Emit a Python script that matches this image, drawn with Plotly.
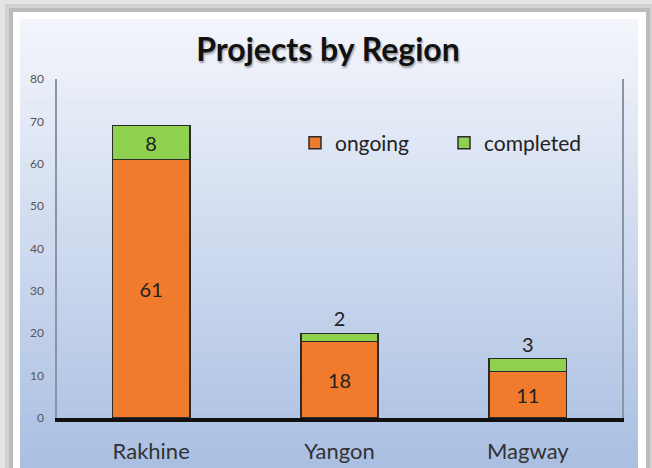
import plotly.graph_objects as go

regions = ["Rakhine", "Yangon", "Magway"]
ongoing = [61, 18, 11]
completed = [8, 2, 3]
y_ticks = [0, 10, 20, 30, 40, 50, 60, 70, 80]

W, H = 652, 468
L, R, T, B = 57, 30, 79, 50
PW, PH = W - L - R, H - T - B


def px(x):
    return (x - L) / PW


def py(y):
    return (H - B - y) / PH


shapes = []
# outer grey shadow frame
shapes.append(dict(type="rect", xref="paper", yref="paper", x0=px(5), x1=px(652), y0=py(470), y1=py(4),
                   fillcolor="#d2d2d2", line=dict(width=0), layer="below"))
shapes.append(dict(type="rect", xref="paper", yref="paper", x0=px(9), x1=px(650), y0=py(470), y1=py(8),
                   fillcolor="#bcbcbc", line=dict(width=0), layer="below"))
# white panel
shapes.append(dict(type="rect", xref="paper", yref="paper", x0=px(13), x1=px(646), y0=py(470), y1=py(12),
                   fillcolor="#ffffff", line=dict(width=0), layer="below"))
# gradient background bands
top_c = (243, 245, 251)
bot_c = (170, 191, 226)
y_start, y_end = 19, 468
n = 60
for i in range(n):
    t = i / (n - 1)
    c = tuple(int(round(top_c[k] + (bot_c[k] - top_c[k]) * t)) for k in range(3))
    ya = y_start + (y_end - y_start) * i / n
    yb = y_start + (y_end - y_start) * (i + 1) / n + 0.6
    shapes.append(dict(type="rect", xref="paper", yref="paper", x0=px(20), x1=px(638),
                       y0=py(yb), y1=py(ya), fillcolor="rgb(%d,%d,%d)" % c,
                       line=dict(width=0), layer="below"))

label_font = dict(family="Lato", size=20, color="#222222")

fig = go.Figure()
fig.add_trace(go.Bar(
    x=regions, y=ongoing, name="ongoing",
    marker=dict(color="#f07b2c", line=dict(color="#2b2b2b", width=1.5)),
    text=[str(v) for v in ongoing], textposition="inside", insidetextanchor="middle",
    textangle=0, constraintext="none",
    textfont=label_font,
    width=0.41,
))
fig.add_trace(go.Bar(
    x=regions, y=completed, name="completed",
    marker=dict(color="#8fd14f", line=dict(color="#2b2b2b", width=1.5)),
    text=[str(v) for v in completed],
    textposition=["inside" if v >= 5 else "outside" for v in completed],
    insidetextanchor="middle", textangle=0, constraintext="none", cliponaxis=False,
    textfont=label_font,
    width=0.41,
))

fig.update_layout(
    width=W, height=H,
    margin=dict(l=L, r=R, t=T, b=B, autoexpand=False),
    paper_bgcolor="#e4e4e4",
    plot_bgcolor="rgba(0,0,0,0)",
    barmode="stack",
    shapes=shapes,
    title=dict(text="<b>Projects by Region</b>", x=328 / W, xanchor="center", y=1 - 50 / H, yanchor="middle",
               xref="container", yref="container",
               font=dict(family="Lato", size=32, color="#111111", shadow="1px 2px 2px rgba(0,0,0,0.35)")),
    legend=dict(orientation="h", x=px(295), y=py(143), xanchor="left", yanchor="middle",
                bgcolor="rgba(0,0,0,0)", font=dict(family="Lato", size=21, color="#222222"),
                traceorder="normal", entrywidth=104, itemwidth=30),
    showlegend=True,
    font=dict(family="Lato"),
)
fig.update_xaxes(
    showgrid=False, showline=True, linecolor="#111111", linewidth=3.5,
    ticks="outside", ticklen=11, tickcolor="rgba(0,0,0,0)",
    tickfont=dict(family="Lato", size=22, color="#333333"),
    zeroline=False,
)
fig.update_yaxes(
    range=[0, 80], tickvals=y_ticks, showgrid=False, showline=True, mirror=True,
    linecolor="#8a94a6", linewidth=1.5,
    ticks="outside", ticklen=9, tickcolor="rgba(0,0,0,0)",
    tickfont=dict(family="Lato", size=12, color="#555555"),
    zeroline=False,
)

fig.write_html("out.html", config={"displayModeBar": False},
               post_script="document.body.style.margin='0';")
